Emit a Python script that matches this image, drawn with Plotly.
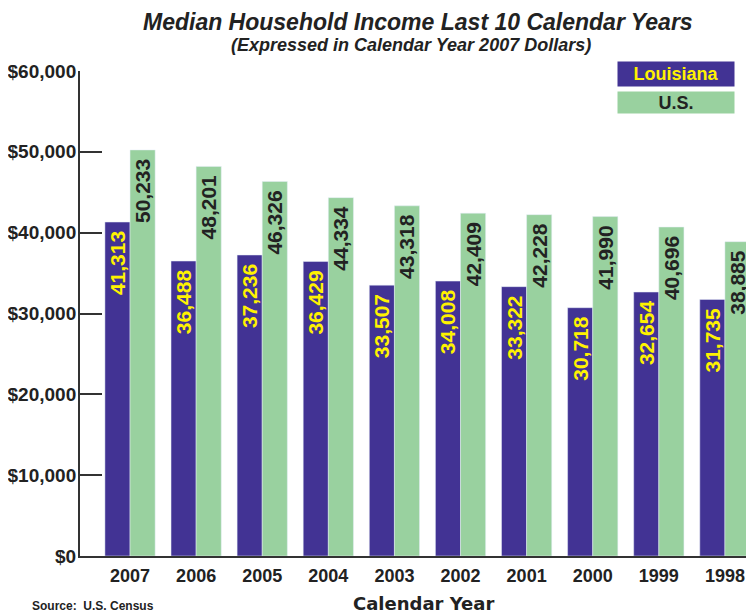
import plotly.graph_objects as go

years = ["2007", "2006", "2005", "2004", "2003", "2002", "2001", "2000", "1999", "1998"]
louisiana = [41313, 36488, 37236, 36429, 33507, 34008, 33322, 30718, 32654, 31735]
us = [50233, 48201, 46326, 44334, 43318, 42409, 42228, 41990, 40696, 38885]
y_ticks = [0, 10000, 20000, 30000, 40000, 50000, 60000]
y_tick_labels = ["$0", "$10,000", "$20,000", "$30,000", "$40,000", "$50,000", "$60,000"]

PURPLE = "#423394"
GREEN = "#99D19F"
YELLOW = "#FFF200"
DARK = "#222222"
FONT = "Liberation Sans, Arial, sans-serif"

# page body adds an 8px offset; figure coordinates are reference minus 8
W, H = 746, 606
L, T, B = 72, 63, 58
PW, PH = W - L, H - T - B


def px(x):
    return (x - L) / PW


def py(y):
    return (H - B - y) / PH


NBSP = "\u00a0"

fig = go.Figure()
fig.add_trace(go.Bar(
    x=years, y=louisiana, name="Louisiana", marker_color=PURPLE,
    text=[f"{v:,}" + NBSP for v in louisiana], textposition="inside", textangle=-90,
    insidetextanchor="end", constraintext="none",
    textfont=dict(family=FONT, size=21, color=YELLOW, weight="bold"),
))
fig.add_trace(go.Bar(
    x=years, y=us, name="U.S.", marker_color=GREEN,
    text=[f"{v:,}" + NBSP for v in us], textposition="inside", textangle=-90,
    insidetextanchor="end", constraintext="none",
    textfont=dict(family=FONT, size=21, color=DARK, weight="bold"),
))

fig.update_layout(
    width=W, height=H,
    margin=dict(l=L, r=0, t=T, b=B),
    paper_bgcolor="white", plot_bgcolor="white",
    barmode="group", bargap=0.24, bargroupgap=0,
    showlegend=False,
    font=dict(family=FONT, color=DARK),
    xaxis=dict(
        type="category", range=[-0.757, 9.44],
        showline=True, linecolor="#333333", linewidth=2,
        ticks="", tickfont=dict(family=FONT, size=18, color=DARK, weight="bold"),
        showgrid=False, ticklabelstandoff=2,
    ),
    yaxis=dict(
        range=[0, 60000], tickvals=y_ticks, ticktext=y_tick_labels,
        showline=True, linecolor="#333333", linewidth=2,
        ticks="inside", ticklen=22, tickwidth=2, tickcolor="#333333",
        tickfont=dict(family=FONT, size=19, color=DARK, weight="bold"),
        showgrid=False, zeroline=False, ticklabelstandoff=-2,
    ),
)

# title and subtitle
fig.add_annotation(
    text="<b><i>Median Household Income Last 10 Calendar Years</i></b>",
    xref="paper", yref="paper", x=px(410), y=py(14), xanchor="center", yanchor="middle",
    showarrow=False, font=dict(family=FONT, size=23, color=DARK),
)
fig.add_annotation(
    text="<b><i>(Expressed in Calendar Year 2007 Dollars)</i></b>",
    xref="paper", yref="paper", x=px(403), y=py(37), xanchor="center", yanchor="middle",
    showarrow=False, font=dict(family=FONT, size=18, color=DARK),
)

# legend boxes
fig.add_annotation(
    text="<b>Louisiana</b>", xref="paper", yref="paper", x=px(609), y=py(53),
    xanchor="left", yanchor="top", showarrow=False, bgcolor=PURPLE, width=116, height=24,
    font=dict(family=FONT, size=18, color=YELLOW), borderpad=0,
)
fig.add_annotation(
    text="<b>U.S.</b>", xref="paper", yref="paper", x=px(609), y=py(83),
    xanchor="left", yanchor="top", showarrow=False, bgcolor=GREEN, width=116, height=21,
    font=dict(family=FONT, size=18, color=DARK), borderpad=0,
)

# axis title and source
fig.add_annotation(
    text="<b>Calendar Year</b>", xref="paper", yref="paper", x=px(415), y=py(595),
    xanchor="center", yanchor="middle", showarrow=False,
    font=dict(family="DejaVu Sans, sans-serif", size=18, color=DARK),
)
fig.add_annotation(
    text="<b>Source:  U.S. Census</b>", xref="paper", yref="paper", x=px(22), y=py(598),
    xanchor="left", yanchor="middle", showarrow=False,
    font=dict(family=FONT, size=12, color=DARK),
)

fig.write_html("out.html")
